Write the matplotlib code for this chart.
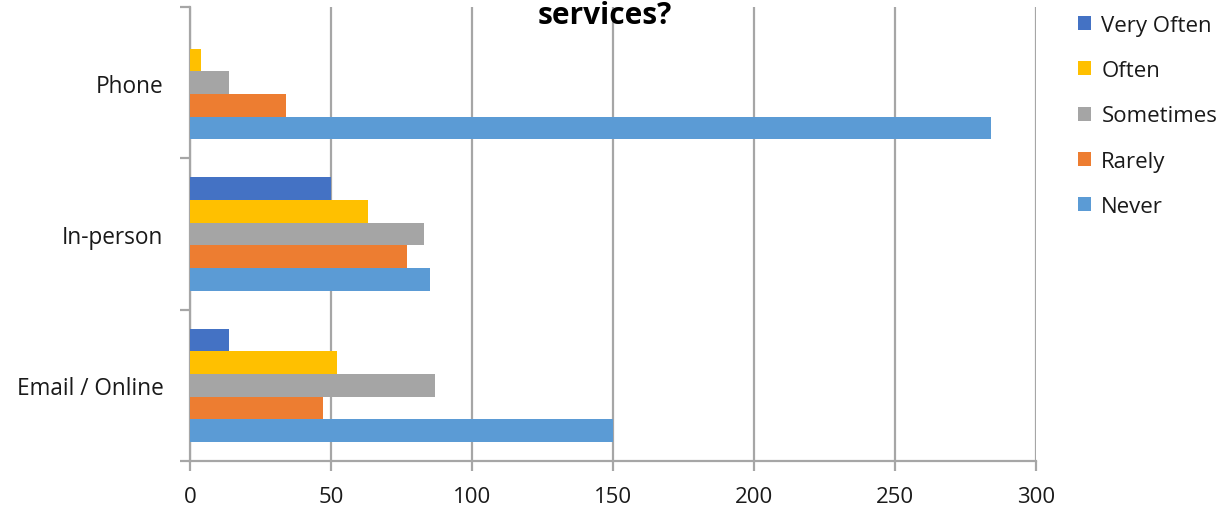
import numpy as np
import matplotlib.pyplot as plt

categories = ['Email / Online', 'In-person', 'Phone']
series = ['Very Often', 'Often', 'Sometimes', 'Rarely', 'Never']
very_often = [14, 50, 0]
often = [52, 63, 4]
sometimes = [87, 83, 14]
rarely = [47, 77, 34]
never = [150, 85, 284]
colors = ['#4472C4', '#FFC000', '#A5A5A5', '#ED7D31', '#5B9BD5']
x_ticks = [0, 50, 100, 150, 200, 250, 300]

plt.rcParams['font.family'] = ['Open Sans', 'DejaVu Sans']
text_color = '#1a1a1a'
grid_color = '#A6A6A6'

fig = plt.figure(figsize=(12.32, 5.10), dpi=100)
ax = fig.add_axes([190 / 1232, 1 - 462 / 510, 846 / 1232, 454 / 510])

y = np.arange(len(categories))
h = 0.15
values = [very_often, often, sometimes, rarely, never]
for i, (name, vals, c) in enumerate(zip(series, values, colors)):
    ax.barh(y + (2 - i) * h, vals, height=h, color=c, label=name, zorder=3)

ax.set_xlim(0, 300)
ax.set_ylim(-0.5, 2.5)
ax.set_xticks(x_ticks)
ax.set_xticklabels([str(t) for t in x_ticks])
ax.set_yticks(y)
ax.set_yticklabels(categories)
ax.set_yticks([-0.5, 0.5, 1.5, 2.5], minor=True)

ax.grid(axis='x', color=grid_color, linewidth=1.6, zorder=0)
for side in ['top', 'right']:
    ax.spines[side].set_visible(False)
for side in ['left', 'bottom']:
    ax.spines[side].set_color(grid_color)
    ax.spines[side].set_linewidth(1.6)

ax.tick_params(axis='y', which='major', length=0, pad=19, labelsize=16.3, labelcolor=text_color)
ax.tick_params(axis='y', which='minor', length=7, width=1.6, color=grid_color)
ax.tick_params(axis='x', length=7, width=1.6, color=grid_color, pad=11, labelsize=16, labelcolor=text_color)

fig.text(0.491, 1 - 1 / 510, 'services?', ha='center', va='top', fontsize=21.5, fontweight='bold', color='#000000')

fig.legend(loc='upper left', bbox_to_anchor=(1058 / 1232, 1 + 4 / 510), frameon=False,
           handlelength=0.6, handleheight=0.6, handletextpad=0.45, labelspacing=1.09,
           fontsize=16, labelcolor=text_color)

fig.savefig('out.png', dpi=100)
